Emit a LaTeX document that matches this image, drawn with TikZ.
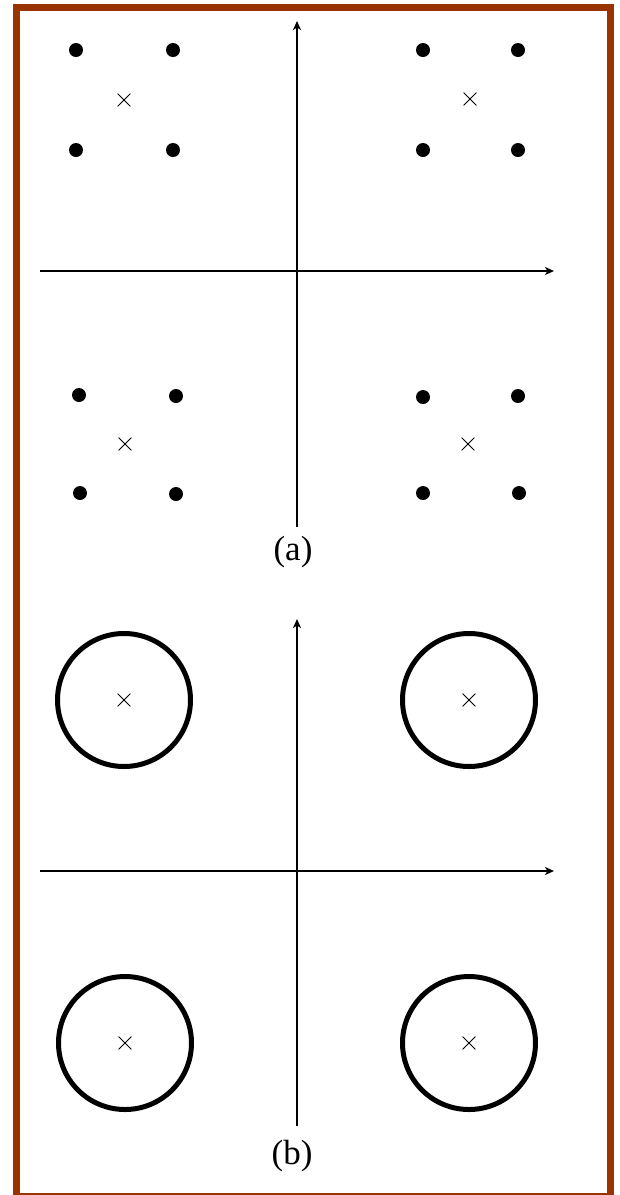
\documentclass[tikz,border=0pt]{standalone}
\usepackage{fontspec}
\setmainfont{Liberation Serif}
\usetikzlibrary{arrows.meta,shapes.misc}
\definecolor{frame}{HTML}{993300}
\begin{document}
\begin{tikzpicture}[x=1pt,y=-1pt,
  axis/.style={line width=1.5pt,-{Stealth[length=9pt,width=8pt,inset=2.5pt]}},
  dot/.style={circle,fill=black,inner sep=0pt,minimum size=14pt},
  cross/.style={cross out,draw=black,line width=0.8pt,inner sep=0pt,minimum size=12pt},
  ring/.style={circle,draw=black,line width=5pt,inner sep=0pt,minimum size=133pt},
  lbl/.style={font=\fontsize{35}{40}\selectfont,inner sep=0pt}]
\useasboundingbox (0,0) rectangle (619,1195);
\draw[frame,line width=7pt] (16,7) rectangle (610,1196.5);
% (a)
\coordinate (ax0) at (40,271); \coordinate (ax1) at (554,271);
\coordinate (ay0) at (297,527); \coordinate (ay1) at (297,21);
\draw[axis] (ax0) -- (ax1);
\draw[axis] (ay0) -- (ay1);
\node[dot] (d1) at (76,50) {}; \node[dot] (d2) at (173,50) {};
\node[dot] (d3) at (76,150) {}; \node[dot] (d4) at (173,150) {};
\node[cross] (c1) at (124,100) {};
\node[dot] (d5) at (423,50) {}; \node[dot] (d6) at (518,50) {};
\node[dot] (d7) at (423,150) {}; \node[dot] (d8) at (518,150) {};
\node[cross] (c2) at (470,99) {};
\node[dot] (d9) at (79,395) {}; \node[dot] (d10) at (176,396) {};
\node[dot] (d11) at (80,493) {}; \node[dot] (d12) at (176,494) {};
\node[cross] (c3) at (125,444) {};
\node[dot] (d13) at (423,397) {}; \node[dot] (d14) at (518,396) {};
\node[dot] (d15) at (423,493) {}; \node[dot] (d16) at (519,493) {};
\node[cross] (c4) at (468,444) {};
\node[lbl] (la) at (293,552) {(a)};
% (b)
\coordinate (bx0) at (40,871); \coordinate (bx1) at (554,871);
\coordinate (by0) at (297,1126); \coordinate (by1) at (297,619);
\draw[axis] (bx0) -- (bx1);
\draw[axis] (by0) -- (by1);
\node[ring] (r1) at (124,700) {}; \node[cross] (e1) at (124,700) {};
\node[ring] (r2) at (469,700) {}; \node[cross] (e2) at (469,700) {};
\node[ring] (r3) at (125,1043) {}; \node[cross] (e3) at (125,1043) {};
\node[ring] (r4) at (469,1043) {}; \node[cross] (e4) at (469,1043) {};
\node[lbl] (lb) at (292,1156) {(b)};
\end{tikzpicture}
\end{document}
